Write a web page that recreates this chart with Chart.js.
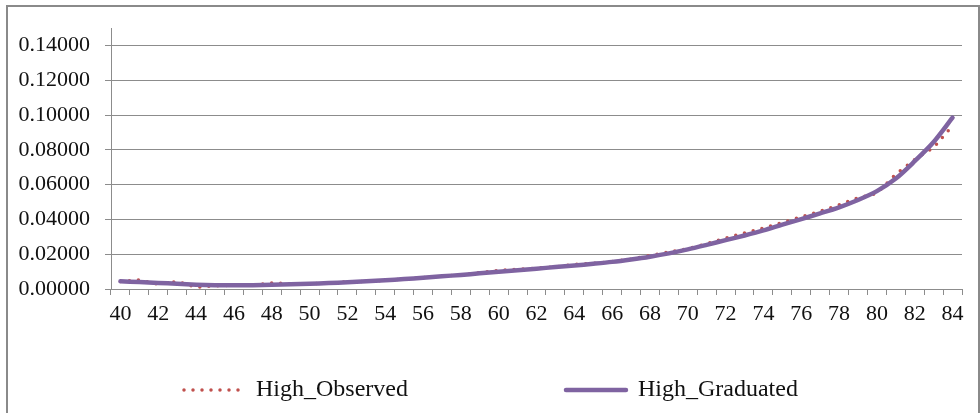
<!DOCTYPE html>
<html>
<head>
<meta charset="utf-8">
<script src="https://cdn.jsdelivr.net/npm/chart.js@4/dist/chart.umd.min.js"></script>
<style>
  html, body { margin: 0; padding: 0; background: #ffffff; overflow: hidden; }
  #wrap { position: relative; width: 980px; height: 413px; }
  #c { position: absolute; left: 0; top: 0; }
  #frame { position: absolute; left: 6px; top: 5px; width: 970px; height: 430px;
           border: 2px solid #8a8a8a; box-sizing: content-box; pointer-events: none; }
</style>
</head>
<body>
<div id="wrap">
  <canvas id="c" width="980" height="413"></canvas>
  <div id="frame"></div>
</div>
<script>
// ---- data ----
const ages = ["40","41","42","43","44","45","46","47","48","49","50","51","52","53","54",
              "55","56","57","58","59","60","61","62","63","64","65","66","67","68","69",
              "70","71","72","73","74","75","76","77","78","79","80","81","82","83","84"];

const highObserved = [0.0043,0.0052,0.0027,0.0043,0.0010,0.0019,0.0021,0.0023,0.0035,0.0030,
                      0.0030,0.0034,0.0041,0.0043,0.0050,0.0057,0.0066,0.0073,0.0081,0.0094,
                      0.0107,0.0114,0.0120,0.0127,0.0141,0.0147,0.0158,0.0172,0.0193,0.0213,
                      0.0232,0.0260,0.0293,0.0322,0.0350,0.0382,0.0415,0.0447,0.0484,0.0525,
                      0.0550,0.0661,0.0745,0.0813,0.0940];

const highGraduated = [0.0044,0.0040,0.0035,0.0030,0.0025,0.0022,0.0021,0.0022,0.0024,0.0027,
                       0.0030,0.0034,0.0039,0.0044,0.0050,0.0057,0.0065,0.0073,0.0081,0.0090,
                       0.0099,0.0108,0.0117,0.0126,0.0135,0.0145,0.0156,0.0170,0.0186,0.0205,
                       0.0228,0.0254,0.0281,0.0308,0.0337,0.0370,0.0402,0.0435,0.0470,0.0512,
                       0.0563,0.0635,0.0735,0.0845,0.0985];

const seriesNames = ["High_Observed", "High_Graduated"];
const yMin = 0, yMax = 0.15, yStep = 0.02;

// ---- styling ----
const FONT = "'Liberation Serif', 'Times New Roman', serif";
const GRID = '#8c8c8c';
const RED = '#C0504D';
const PURPLE = '#7F63A1';

const LEGEND_X = 184, LEGEND_Y = 390, LEGEND_PAD = 158, LEGEND_FONT = 24;

const legendPlace = {
  id: 'legendPlace',
  afterLayout(chart) {
    const lg = chart.legend;
    if (!lg) return;
    lg.left = LEGEND_X - LEGEND_PAD;
    lg.right = lg.left + 3000;
    lg.top = LEGEND_Y - LEGEND_PAD - LEGEND_FONT / 2;
    lg.bottom = lg.top + 1000;
    lg.width = lg.right - lg.left;
    lg.height = lg.bottom - lg.top;
  }
};

new Chart(document.getElementById('c'), {
  type: 'line',
  data: {
    labels: ages,
    datasets: [
      {
        label: seriesNames[0],
        data: highObserved,
        order: 1,
        borderColor: RED,
        backgroundColor: RED,
        borderWidth: 3.5,
        borderDash: [0, 9],
        borderCapStyle: 'round',
        pointRadius: 0,
        tension: 0,
        fill: false
      },
      {
        label: seriesNames[1],
        data: highGraduated,
        order: 0,
        borderColor: PURPLE,
        backgroundColor: PURPLE,
        borderWidth: 4.5,
        borderCapStyle: 'round',
        pointRadius: 0,
        tension: 0.3,
        fill: false
      }
    ]
  },
  options: {
    responsive: false,
    animation: false,
    devicePixelRatio: 1,
    layout: { padding: { left: 0, right: 18, top: 26, bottom: 39 } },
    plugins: {
      tooltip: { enabled: false },
      legend: {
        position: 'bottom',
        align: 'start',
        maxHeight: 40,
        labels: {
          usePointStyle: true,
          pointStyle: 'line',
          pointStyleWidth: 60,
          padding: LEGEND_PAD,
          color: '#111',
          font: { family: FONT, size: LEGEND_FONT },
          sort: (a, b) => a.datasetIndex - b.datasetIndex,
          generateLabels: (chart) => {
            const items = Chart.defaults.plugins.legend.labels.generateLabels(chart);
            items.forEach((it) => {
              const ds = chart.data.datasets[it.datasetIndex];
              it.lineDash = ds.borderDash || [];
              it.lineCap = ds.borderCapStyle || 'butt';
              it.lineWidth = ds.borderWidth;
              it.strokeStyle = ds.borderColor;
              it.fillStyle = 'rgba(0,0,0,0)';
              it.pointStyle = 'line';
            });
            return items;
          }
        }
      }
    },
    scales: {
      x: {
        offset: true,
        grid: { display: true, drawOnChartArea: false, drawTicks: true, tickLength: 6, offset: true, color: GRID },
        border: { display: true, color: GRID, width: 1 },
        ticks: {
          autoSkip: false,
          maxRotation: 0,
          minRotation: 0,
          padding: 6,
          color: '#111',
          font: { family: FONT, size: 22 },
          callback: function (v, i) { return i % 2 === 0 ? this.getLabelForValue(v) : ''; }
        },
        afterFit: (s) => { s.height = 45; }
      },
      y: {
        min: yMin,
        max: yMax,
        grid: { color: GRID, tickLength: 6, drawTicks: true },
        border: { display: true, color: GRID, width: 1 },
        ticks: {
          stepSize: yStep,
          includeBounds: false,
          padding: 15,
          color: '#111',
          font: { family: FONT, size: 22 },
          callback: (v) => Number(v).toFixed(5)
        },
        afterFit: (s) => { s.width = 111; }
      }
    }
  },
  plugins: [legendPlace]
});
</script>
</body>
</html>
